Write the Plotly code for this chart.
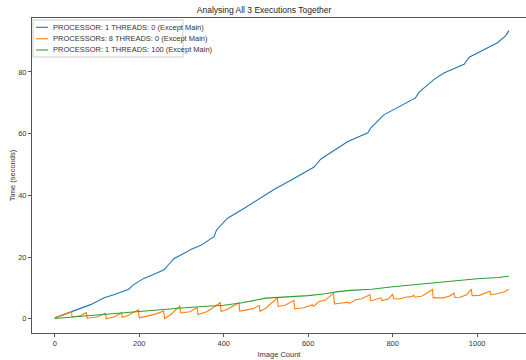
import plotly.graph_objects as go

title = "Analysing All 3 Executions Together"
x_label = "Image Count"
y_label = "Time (seconds)"
series_names = [
    "PROCESSOR: 1 THREADS: 0 (Except Main)",
    "PROCESSORs: 8 THREADS: 0 (Except Main)",
    "PROCESSOR: 1 THREADS: 100 (Except Main)",
]
colors = ["#1f77b4", "#ff7f0e", "#2ca02c"]
x_ticks = [0, 200, 400, 600, 800, 1000]
y_ticks = [0, 20, 40, 60, 80]

blue_x = [0, 20, 42, 60, 85, 100, 117, 140, 164, 175, 186, 211, 243, 260, 267, 282, 314,
          322, 346, 369, 377, 383, 409, 440, 480, 520, 560, 600, 614, 630, 661, 693, 741,
          749, 779, 819, 854, 862, 898, 921, 969, 981, 1016, 1048, 1067, 1075]
blue_y = [0.3, 1.3, 2.4, 3.5, 4.6, 5.6, 6.8, 7.8, 8.9, 9.6, 11.0, 13.1, 14.9, 16.0, 17.2, 19.5, 21.8,
          22.5, 23.8, 26.0, 26.6, 28.8, 32.6, 35.1, 38.5, 42.0, 45.0, 48.0, 49.2, 51.8, 54.7, 57.4, 60.3,
          62.0, 66.1, 68.9, 71.6, 73.4, 77.6, 79.7, 82.5, 84.8, 87.4, 89.5, 91.7, 93.4]

orange_x = [0, 20, 40, 41, 60, 75, 77, 100, 120, 122, 140, 158, 160, 172, 198, 200, 215, 225, 240,
            258, 260, 275, 296, 298, 320, 337, 339, 360, 392, 394, 410, 425, 436, 438, 455, 470,
            484, 486, 500, 527, 529, 545, 566, 568, 590, 610, 612, 626, 640, 660, 662, 680, 695,
            697, 712, 725, 746, 748, 760, 772, 774, 790, 800, 802, 815, 830, 845, 850, 852, 870,
            894, 896, 920, 935, 945, 947, 960, 975, 986, 988, 1005, 1020, 1030, 1032, 1050, 1065, 1075]
orange_y = [0.3, 1.2, 2.2, 0.6, 1.0, 2.0, 0.2, 0.6, 1.8, 0.0, 0.6, 1.9, 0.5, 1.0, 2.9, 0.3, 0.9, 1.1, 1.6,
            2.5, 0.1, 1.4, 4.2, 1.9, 2.3, 3.6, 1.4, 2.3, 5.2, 2.4, 3.2, 4.3, 5.2, 2.5, 3.0, 3.3,
            4.3, 2.4, 3.5, 6.8, 4.0, 4.4, 5.9, 3.2, 3.6, 4.6, 4.0, 5.6, 6.0, 8.3, 4.8, 5.0, 5.4,
            5.0, 6.2, 6.4, 7.8, 5.8, 6.2, 6.8, 5.9, 6.4, 8.0, 6.6, 6.4, 7.0, 7.2, 7.6, 7.0, 7.4,
            9.5, 6.8, 6.8, 7.4, 8.3, 6.9, 7.0, 7.8, 9.6, 7.5, 7.6, 8.4, 8.9, 7.8, 8.2, 8.8, 9.6]

green_x = [0, 50, 100, 150, 200, 250, 300, 350, 400, 440, 470, 500, 550, 600, 640, 670, 700,
           750, 800, 850, 900, 950, 1000, 1050, 1075]
green_y = [0.1, 0.7, 1.2, 1.8, 2.5, 3.0, 3.5, 4.0, 4.4, 5.1, 6.0, 6.7, 7.1, 7.5, 8.1, 8.8, 9.2,
           9.6, 10.4, 11.1, 11.8, 12.4, 13.0, 13.4, 13.8]

series = [(blue_x, blue_y), (orange_x, orange_y), (green_x, green_y)]

FONT = "Liberation Sans, Arial, sans-serif"

fig = go.Figure()
for (xs, ys), name, c in zip(series, series_names, colors):
    fig.add_trace(go.Scatter(x=xs, y=ys, mode="lines", name=name,
                             line=dict(color=c, width=1.1), showlegend=False))

W, H = 526, 360
L, R, T, B = 32, 0, 18, 27
pw, ph = W - L - R, H - T - B

def px(xp):
    return (xp - L) / pw

def py(yp):
    return (H - B - yp) / ph

shapes = [dict(type="rect", xref="paper", yref="paper", x0=px(33), x1=px(183), y0=py(57), y1=py(20),
               line=dict(color="#cccccc", width=1), fillcolor="rgba(255,255,255,0.8)", layer="above")]
annotations = []
row_y = [27.3, 38.8, 50.0]
for name, c, ry in zip(series_names, colors, row_y):
    shapes.append(dict(type="line", xref="paper", yref="paper", x0=px(36), x1=px(48), y0=py(ry), y1=py(ry),
                       line=dict(color=c, width=1.1), layer="above"))
    annotations.append(dict(text=name, xref="paper", yref="paper", x=px(51), y=py(ry), xanchor="left",
                            yanchor="middle", showarrow=False, font=dict(family=FONT, size=7.5, color="#333")))

fig.update_layout(
    width=W, height=H,
    margin=dict(l=L, r=R, t=T, b=B, pad=0),
    paper_bgcolor="white", plot_bgcolor="white",
    title=dict(text=title, x=px(280), xanchor="center", y=1 - 10 / H, yanchor="middle",
               font=dict(family=FONT, size=8.5, color="#222")),
    font=dict(family=FONT, size=7.5, color="#333"),
    shapes=shapes, annotations=annotations,
    showlegend=False,
)
fig.update_xaxes(range=[-53.75, 1115.5], tickvals=x_ticks, showgrid=False, zeroline=False,
                 showline=True, linecolor="#555", linewidth=1, mirror=True,
                 ticks="outside", ticklen=3, tickcolor="#555", tickfont=dict(color="#333"),
                 title=dict(text=x_label, standoff=4, font=dict(family=FONT, size=7.5, color="#333")))
fig.update_yaxes(range=[-4.6, 97.5], tickvals=y_ticks, showgrid=False, zeroline=False,
                 showline=True, linecolor="#555", linewidth=1, mirror=False,
                 ticks="outside", ticklen=3, tickcolor="#555", tickfont=dict(color="#333"),
                 title=dict(text=y_label, standoff=1, font=dict(family=FONT, size=7.5, color="#333")))

fig.write_html("out.html", config={"displayModeBar": False},
               post_script="document.body.style.margin='0';document.body.style.overflow='hidden';")
